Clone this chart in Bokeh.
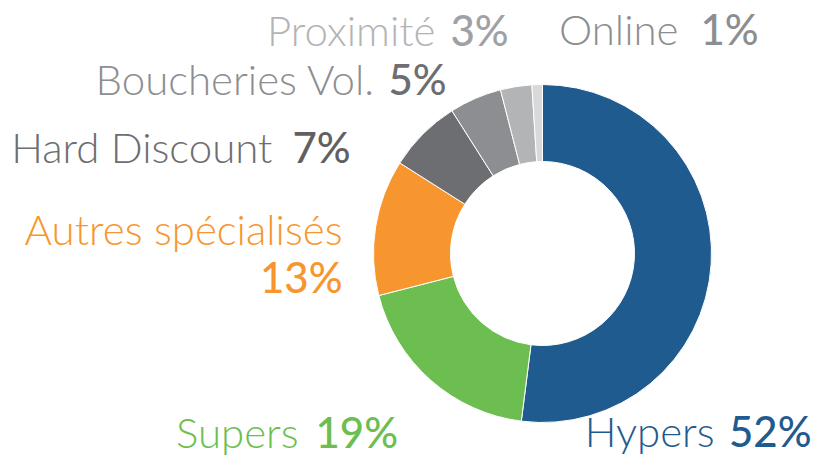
import numpy as np
from bokeh.plotting import figure
from bokeh.models import Range1d, ColumnDataSource
from bokeh.core.properties import value
from bokeh.embed import file_html
from bokeh.resources import INLINE

# ---- data ----
categories = ["Hypers", "Supers", "Autres spécialisés", "Hard Discount",
              "Boucheries Vol.", "Proximité", "Online"]
shares = [52, 19, 13, 7, 5, 3, 1]
pct_labels = ["52%", "19%", "13%", "7%", "5%", "3%", "1%"]

# ---- styles ----
slice_colors = ["#1f5b8f", "#6dbe51", "#f7962e", "#6d6e71", "#8d8e91", "#b2b4b6", "#d8d9db"]
name_colors = ["#1f5b8f", "#6dbe51", "#f7962e", "#6d6e71", "#8d8e91", "#b2b4b6", "#8d8e91"]
pct_colors = ["#1f5b8f", "#6dbe51", "#f7962e", "#5f6064", "#6d6e71", "#9fa1a4", "#8d8e91"]

# layout in picture pixels (x right, y down)
TEXT_DY = -17  # empirical baseline correction
name_pos = [(714, 447, "right"), (298, 448, "right"), (342, 245, "right"),
            (272, 163, "right"), (375, 95, "right"), (435, 46, "right"), (678, 45, "right")]
pct_pos = [(811, 447, "right"), (315, 448, "left"), (342, 293, "right"),
           (292, 163, "left"), (388, 95, "left"), (450, 46, "left"), (700, 45, "left")]

CX, CY = 542, 253
R_OUT, R_IN = 169, 92
FONT_SIZE = "42px"

W, H = 816, 455
p = figure(width=W, height=H, output_backend="svg", toolbar_location=None,
           x_range=Range1d(0, W), y_range=Range1d(-H, 0),
           min_border=0, outline_line_color=None)
p.axis.visible = False
p.grid.visible = False
p.background_fill_color = "white"
p.border_fill_color = "white"

frac = np.array(shares, dtype=float) / sum(shares)
cum = np.concatenate([[0.0], np.cumsum(frac)])
start = np.pi / 2 - 2 * np.pi * cum[:-1]
end = np.pi / 2 - 2 * np.pi * cum[1:]

src = ColumnDataSource(dict(cat=categories, start=start, end=end, color=slice_colors))
p.annular_wedge(x=CX, y=-CY, inner_radius=R_IN, outer_radius=R_OUT,
                start_angle="start", end_angle="end", direction="clock",
                fill_color="color", line_color="white", line_width=1, source=src)

for i in range(len(categories)):
    nx, ny, na = name_pos[i]
    px, py, pa = pct_pos[i]
    p.text(x=[nx], y=[-(ny + TEXT_DY)], text=[categories[i]], text_align=na,
           text_baseline="alphabetic", text_font=value("Lato Light"),
           text_font_size=FONT_SIZE, text_color=name_colors[i])
    p.text(x=[px], y=[-(py + TEXT_DY)], text=[pct_labels[i]], text_align=pa,
           text_baseline="alphabetic", text_font=value("Lato Medium"),
           text_font_size=FONT_SIZE, text_color=pct_colors[i])

open("out.html", "w").write(file_html(p, INLINE))
